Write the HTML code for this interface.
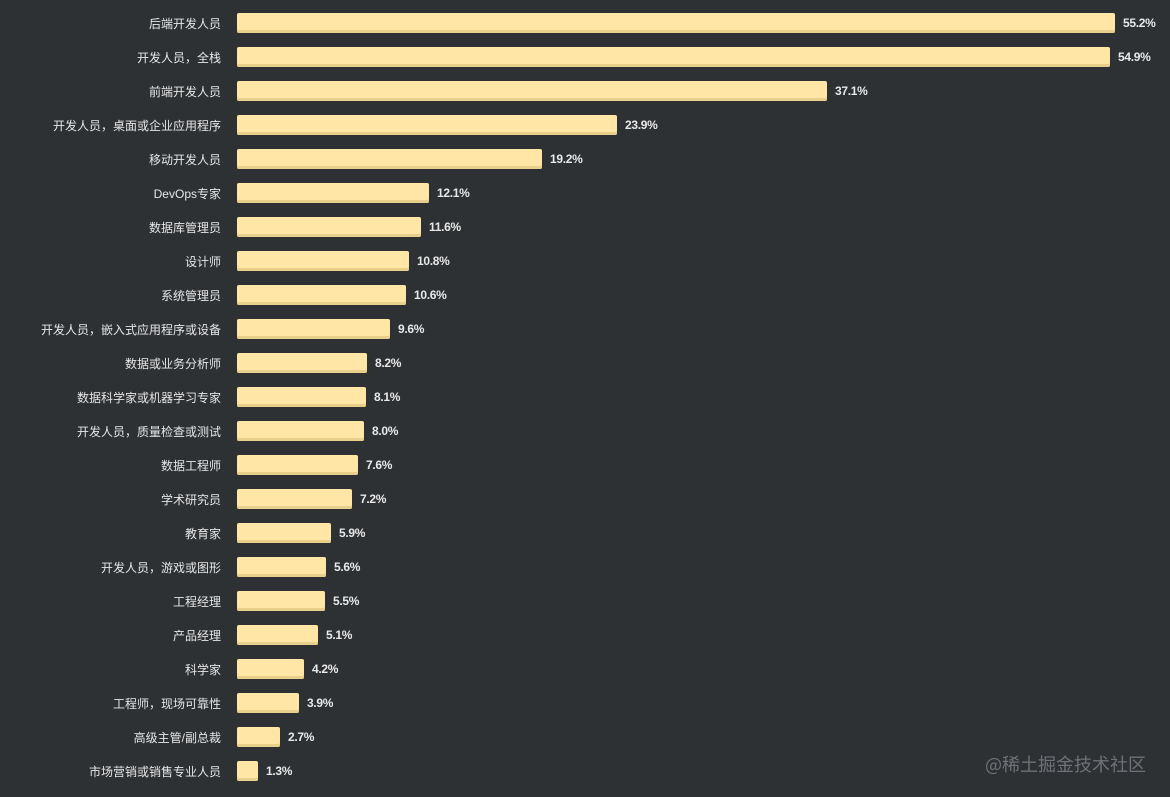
<!DOCTYPE html>
<html><head><meta charset="utf-8"><style>
body{margin:0;width:1170px;height:797px;background:#2e3134;overflow:hidden;font-family:"Liberation Sans","Noto Sans CJK SC",sans-serif;position:relative}
.r{position:absolute;left:0;height:20px;display:flex;align-items:center}
.l{width:221px;text-align:right;color:#e6e6e6;font-size:12px;margin-right:16px;white-space:nowrap}
.b{height:20px;background:#ffe6a6;border-radius:2px;box-shadow:inset 0 -3px 0 #e9cf8c}
.v{margin-left:8px;color:#e8e8e8;font-size:12px;font-weight:bold;letter-spacing:-0.3px}
.w{position:absolute;left:985px;top:751px;color:#6e7175;font-size:18px;font-family:"Noto Sans CJK SC",sans-serif}
</style></head><body>
<div class="r" style="top:13px"><div class="l">后端开发人员</div><div class="b" style="width:878px"></div><div class="v">55.2%</div></div>
<div class="r" style="top:47px"><div class="l">开发人员，全栈</div><div class="b" style="width:873px"></div><div class="v">54.9%</div></div>
<div class="r" style="top:81px"><div class="l">前端开发人员</div><div class="b" style="width:590px"></div><div class="v">37.1%</div></div>
<div class="r" style="top:115px"><div class="l">开发人员，桌面或企业应用程序</div><div class="b" style="width:380px"></div><div class="v">23.9%</div></div>
<div class="r" style="top:149px"><div class="l">移动开发人员</div><div class="b" style="width:305px"></div><div class="v">19.2%</div></div>
<div class="r" style="top:183px"><div class="l">DevOps专家</div><div class="b" style="width:192px"></div><div class="v">12.1%</div></div>
<div class="r" style="top:217px"><div class="l">数据库管理员</div><div class="b" style="width:184px"></div><div class="v">11.6%</div></div>
<div class="r" style="top:251px"><div class="l">设计师</div><div class="b" style="width:172px"></div><div class="v">10.8%</div></div>
<div class="r" style="top:285px"><div class="l">系统管理员</div><div class="b" style="width:169px"></div><div class="v">10.6%</div></div>
<div class="r" style="top:319px"><div class="l">开发人员，嵌入式应用程序或设备</div><div class="b" style="width:153px"></div><div class="v">9.6%</div></div>
<div class="r" style="top:353px"><div class="l">数据或业务分析师</div><div class="b" style="width:130px"></div><div class="v">8.2%</div></div>
<div class="r" style="top:387px"><div class="l">数据科学家或机器学习专家</div><div class="b" style="width:129px"></div><div class="v">8.1%</div></div>
<div class="r" style="top:421px"><div class="l">开发人员，质量检查或测试</div><div class="b" style="width:127px"></div><div class="v">8.0%</div></div>
<div class="r" style="top:455px"><div class="l">数据工程师</div><div class="b" style="width:121px"></div><div class="v">7.6%</div></div>
<div class="r" style="top:489px"><div class="l">学术研究员</div><div class="b" style="width:115px"></div><div class="v">7.2%</div></div>
<div class="r" style="top:523px"><div class="l">教育家</div><div class="b" style="width:94px"></div><div class="v">5.9%</div></div>
<div class="r" style="top:557px"><div class="l">开发人员，游戏或图形</div><div class="b" style="width:89px"></div><div class="v">5.6%</div></div>
<div class="r" style="top:591px"><div class="l">工程经理</div><div class="b" style="width:88px"></div><div class="v">5.5%</div></div>
<div class="r" style="top:625px"><div class="l">产品经理</div><div class="b" style="width:81px"></div><div class="v">5.1%</div></div>
<div class="r" style="top:659px"><div class="l">科学家</div><div class="b" style="width:67px"></div><div class="v">4.2%</div></div>
<div class="r" style="top:693px"><div class="l">工程师，现场可靠性</div><div class="b" style="width:62px"></div><div class="v">3.9%</div></div>
<div class="r" style="top:727px"><div class="l">高级主管/副总裁</div><div class="b" style="width:43px"></div><div class="v">2.7%</div></div>
<div class="r" style="top:761px"><div class="l">市场营销或销售专业人员</div><div class="b" style="width:21px"></div><div class="v">1.3%</div></div>
<div class="w">@稀土掘金技术社区</div>
</body></html>
